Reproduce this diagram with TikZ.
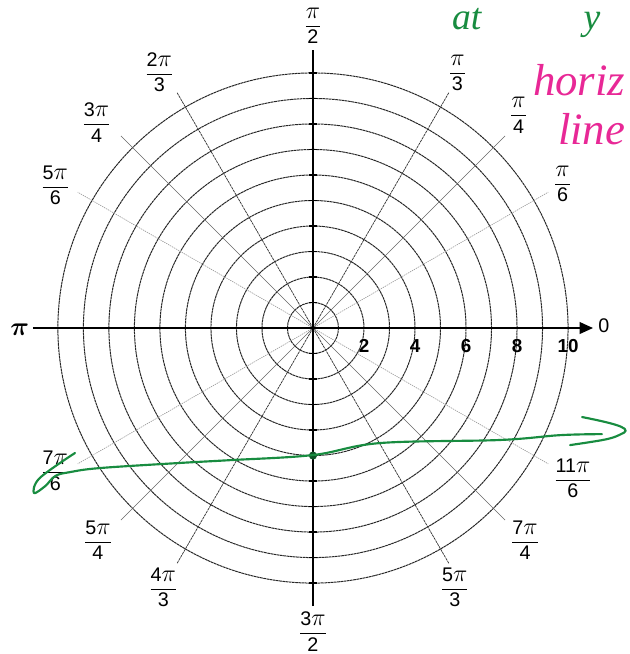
\documentclass[tikz,border=0pt]{standalone}
\usepackage{amsmath}
\usepackage{graphicx}
\usepackage{fontspec}
\setmainfont{Liberation Sans}
\newfontfamily\handfont{Liberation Serif}
\usetikzlibrary{arrows.meta}
\definecolor{inkgreen}{RGB}{24,140,64}
\definecolor{inkpink}{RGB}{232,40,150}
\tikzset{
  ring/.style={black!85, line width=1.1pt, dash pattern=on 3pt off 0.6pt},
  spokedark/.style={black!80, line width=0.8pt, dash pattern=on 3pt off 0.8pt},
  spokemid/.style={black!60, line width=0.7pt},
  spokelight/.style={black!40, line width=0.7pt, dash pattern=on 1.5pt off 1pt},
  haxis/.style={black, line width=2.2pt, -{Triangle[length=15pt,width=13pt]}},
  vaxis/.style={black, line width=1.6pt},
  vtick/.style={black, line width=1.6pt},
  anglelabel/.style={font=\fontsize{22}{26}\selectfont, inner sep=0pt},
  radiuslabel/.style={font=\fontsize{21}{22}\selectfont\bfseries, inner sep=0pt},
  greenink/.style={inkgreen, line width=2.4pt, line cap=round, line join=round},
  handgreen/.style={inkgreen, font=\handfont\itshape\fontsize{42}{42}\selectfont,
    inner sep=0pt, anchor=base west},
  handpink/.style={inkpink, font=\handfont\itshape\fontsize{50}{50}\selectfont,
    inner sep=0pt, anchor=base east}
}
\newcommand{\bigpi}{\scalebox{1.3}{$\pi$}}
\newcommand{\polfrac}[2]{$\dfrac{\text{#1}}{\text{#2}}$}

\begin{document}
\begin{tikzpicture}
    \useasboundingbox (-12.27,-12.78) rectangle (12.39,12.86);
    \clip (-12.27,-12.78) rectangle (12.39,12.86);
    \foreach \r in {1,...,10}
      \draw[ring] (0,0) circle (\r);
    \foreach \a in {30,150,210,330}
      \draw[spokelight] (0,0) -- (\a:10.65);
    \foreach \a in {45,135,225,315}
      \draw[spokemid] (0,0) -- (\a:10.65);
    \foreach \a in {60,120,240,300}
      \draw[spokedark] (0,0) -- (\a:10.65);
    \coordinate (west) at (-10.98,0);
    \coordinate (east) at (10.98,0);
    \coordinate (north) at (0,10.9);
    \coordinate (south) at (0,-10.9);
    \draw[vaxis] (south) -- (north);
    \foreach \y in {-10,...,-1,1,2,...,10}
      \draw[vtick] (-0.14,\y) -- (0.14,\y);
    \draw[haxis] (west) -- (east);
    \node[anglelabel] (lbl0) at (11.4,0.08) {0};
    \node[anglelabel] (lbl30) at (30:11.3) {\polfrac{\bigpi}{6}};
    \node[anglelabel] (lbl45) at (46:11.6) {\polfrac{\bigpi}{4}};
    \node[anglelabel] (lbl60) at (60.5:11.5) {\polfrac{\bigpi}{3}};
    \node[anglelabel] (lbl90) at (0,11.85) {\polfrac{\bigpi}{2}};
    \node[anglelabel] (lbl120) at (121:11.7) {\polfrac{2\bigpi}{3}};
    \node[anglelabel] (lbl135) at (136.5:11.7) {\polfrac{3\bigpi}{4}};
    \node[anglelabel] (lbl150) at (151:11.55) {\polfrac{5\bigpi}{6}};
    \node[anglelabel] (lbl180) at (-11.5,-0.05) {\scalebox{1.4}{$\boldsymbol{\pi}$}};
    \node[anglelabel] (lbl210) at (209:11.55) {\polfrac{7\bigpi}{6}};
    \node[anglelabel] (lbl225) at (224.6:11.84) {\polfrac{5\bigpi}{4}};
    \node[anglelabel] (lbl240) at (240:11.74) {\polfrac{4\bigpi}{3}};
    \node[anglelabel] (lbl270) at (0,-11.9) {\polfrac{3\bigpi}{2}};
    \node[anglelabel] (lbl300) at (298.7:11.58) {\polfrac{5\bigpi}{3}};
    \node[anglelabel] (lbl315) at (315:11.76) {\polfrac{7\bigpi}{4}};
    \node[anglelabel] (lbl330) at (330:11.77) {\polfrac{11\bigpi}{6}};
    \node[radiuslabel] (num2) at (2,-0.7) {2};
    \node[radiuslabel] (num4) at (4,-0.7) {4};
    \node[radiuslabel] (num6) at (6,-0.7) {6};
    \node[radiuslabel] (num8) at (8,-0.7) {8};
    \node[radiuslabel] (num10) at (10,-0.7) {10};
    \node[handgreen] (handat) at (5.45,11.7) {at};
    \node[handgreen] (handy) at (10.6,11.7) {y};
    \node[handpink] (handhoriz) at (12.25,9.1) {horiz};
    \node[handpink] (handline) at (12.25,7.2) {line};
    \fill[inkgreen!60!black] (0,-5) circle (0.16);
    \draw[greenink] plot[smooth, tension=0.6] coordinates {(-9.33,-4.9)
      (-10.71,-5.88) (-10.94,-6.47) (-10.5,-6.2) (-10.1,-5.8) (-9.53,-5.65)
      (-8.35,-5.49) (-5.22,-5.29) (-3.25,-5.18) (0,-4.98) (2.63,-4.51)
      (7.33,-4.39) (9.69,-4.2) (11.33,-4.16)};
    \draw[greenink] (10.55,-3.49) .. controls (11.6,-3.7) and (12.5,-3.9)
      .. (12.2,-4.1) .. controls (11.7,-4.35) .. (10.08,-4.59);
  \end{tikzpicture}
\end{document}
